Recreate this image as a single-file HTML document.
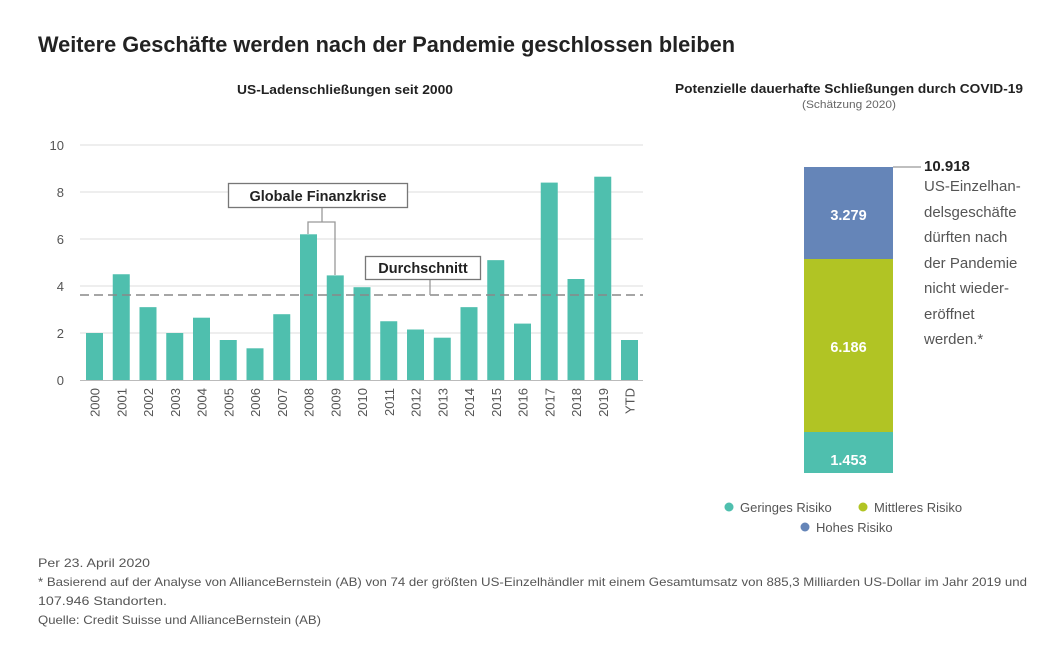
<!DOCTYPE html>
<html><head><meta charset="utf-8"><style>
html,body{margin:0;padding:0;background:#fff;}
svg{display:block;font-family:"Liberation Sans",sans-serif;}
</style></head><body>
<svg width="1057" height="658" viewBox="0 0 1057 658" xmlns="http://www.w3.org/2000/svg">
<text x="38" y="52" font-size="22" font-weight="bold" fill="#222" textLength="697" lengthAdjust="spacingAndGlyphs">Weitere Geschäfte werden nach der Pandemie geschlossen bleiben</text>
<text x="237" y="94" font-size="12.5" font-weight="bold" fill="#222" textLength="216" lengthAdjust="spacingAndGlyphs">US-Ladenschließungen seit 2000</text>
<text x="675" y="93" font-size="12.5" font-weight="bold" fill="#222" textLength="348" lengthAdjust="spacingAndGlyphs">Potenzielle dauerhafte Schließungen durch COVID-19</text>
<text x="802" y="108" font-size="11" fill="#666" textLength="94" lengthAdjust="spacingAndGlyphs">(Schätzung 2020)</text>
<g stroke="#ddd" stroke-width="1">
<line x1="80" y1="145" x2="643" y2="145"/><line x1="80" y1="192" x2="643" y2="192"/><line x1="80" y1="239" x2="643" y2="239"/><line x1="80" y1="286" x2="643" y2="286"/><line x1="80" y1="333" x2="643" y2="333"/>
</g>
<line x1="80" y1="380.5" x2="643" y2="380.5" stroke="#bbb"/>
<g font-size="13" fill="#555" text-anchor="end">
<text x="64" y="150">10</text><text x="64" y="197">8</text><text x="64" y="244">6</text><text x="64" y="291">4</text><text x="64" y="338">2</text><text x="64" y="385">0</text>
</g>
<g fill="#4fbfae">
<rect x="86" y="333" width="17" height="47"/>
<rect x="112.75" y="274.25" width="17" height="105.75"/>
<rect x="139.5" y="307.15" width="17" height="72.85"/>
<rect x="166.25" y="333" width="17" height="47"/>
<rect x="193" y="317.7" width="17" height="62.3"/>
<rect x="219.75" y="340" width="17" height="40"/>
<rect x="246.5" y="348.3" width="17" height="31.7"/>
<rect x="273.25" y="314.2" width="17" height="65.8"/>
<rect x="300" y="234.3" width="17" height="145.7"/>
<rect x="326.75" y="275.4" width="17" height="104.6"/>
<rect x="353.5" y="287.2" width="17" height="92.8"/>
<rect x="380.25" y="321.25" width="17" height="58.75"/>
<rect x="407" y="329.5" width="17" height="50.5"/>
<rect x="433.75" y="337.7" width="17" height="42.3"/>
<rect x="460.5" y="307.15" width="17" height="72.85"/>
<rect x="487.25" y="260.15" width="17" height="119.85"/>
<rect x="514" y="323.6" width="17" height="56.4"/>
<rect x="540.75" y="182.6" width="17" height="197.4"/>
<rect x="567.5" y="279" width="17" height="101"/>
<rect x="594.25" y="176.7" width="17" height="203.3"/>
<rect x="621" y="340" width="17" height="40"/>
</g>
<line x1="80" y1="295" x2="643" y2="295" stroke="#888" stroke-width="1.5" stroke-dasharray="9,5"/>
<g stroke="#999" stroke-width="1.3" fill="none">
<polyline points="308,234 308,222 335,222 335,275"/>
<line x1="322" y1="207" x2="322" y2="222"/>
<line x1="430" y1="279" x2="430" y2="295"/>
</g>
<rect x="228.5" y="183.5" width="179" height="24" fill="#fff" stroke="#777" stroke-width="1.3"/>
<text x="318" y="201" font-size="14.5" font-weight="bold" fill="#222" text-anchor="middle">Globale Finanzkrise</text>
<rect x="365.5" y="256.5" width="115" height="23" fill="#fff" stroke="#777" stroke-width="1.3"/>
<text x="423" y="273" font-size="14.5" font-weight="bold" fill="#222" text-anchor="middle">Durchschnitt</text>
<g font-size="13" fill="#555" text-anchor="end">
<text transform="translate(99.5,388) rotate(-90)">2000</text>
<text transform="translate(126.25,388) rotate(-90)">2001</text>
<text transform="translate(153,388) rotate(-90)">2002</text>
<text transform="translate(179.75,388) rotate(-90)">2003</text>
<text transform="translate(206.5,388) rotate(-90)">2004</text>
<text transform="translate(233.25,388) rotate(-90)">2005</text>
<text transform="translate(260,388) rotate(-90)">2006</text>
<text transform="translate(286.75,388) rotate(-90)">2007</text>
<text transform="translate(313.5,388) rotate(-90)">2008</text>
<text transform="translate(340.25,388) rotate(-90)">2009</text>
<text transform="translate(367,388) rotate(-90)">2010</text>
<text transform="translate(393.75,388) rotate(-90)">2011</text>
<text transform="translate(420.5,388) rotate(-90)">2012</text>
<text transform="translate(447.25,388) rotate(-90)">2013</text>
<text transform="translate(474,388) rotate(-90)">2014</text>
<text transform="translate(500.75,388) rotate(-90)">2015</text>
<text transform="translate(527.5,388) rotate(-90)">2016</text>
<text transform="translate(554.25,388) rotate(-90)">2017</text>
<text transform="translate(581,388) rotate(-90)">2018</text>
<text transform="translate(607.75,388) rotate(-90)">2019</text>
<text transform="translate(634.5,388) rotate(-90)">YTD</text>
</g>
<rect x="804" y="167" width="89" height="92" fill="#6585b8"/>
<rect x="804" y="259" width="89" height="173" fill="#b1c424"/>
<rect x="804" y="432" width="89" height="41" fill="#4fbfae"/>
<g font-size="14.5" font-weight="bold" fill="#fff" text-anchor="middle">
<text x="848.5" y="220">3.279</text><text x="848.5" y="352">6.186</text><text x="848.5" y="465">1.453</text>
</g>
<line x1="893" y1="167" x2="921" y2="167" stroke="#999" stroke-width="1.2"/>
<text x="924" y="171" font-size="15" font-weight="bold" fill="#222">10.918</text>
<g font-size="15" fill="#555">
<text x="924" y="191">US-Einzelhan-</text>
<text x="924" y="217">delsgeschäfte</text>
<text x="924" y="242">dürften nach</text>
<text x="924" y="268">der Pandemie</text>
<text x="924" y="293">nicht wieder-</text>
<text x="924" y="319">eröffnet</text>
<text x="924" y="344">werden.*</text>
</g>
<g font-size="13" fill="#555">
<circle cx="729" cy="507" r="4.5" fill="#4fbfae"/><text x="740" y="512">Geringes Risiko</text>
<circle cx="863" cy="507" r="4.5" fill="#b1c424"/><text x="874" y="512">Mittleres Risiko</text>
<circle cx="805" cy="527" r="4.5" fill="#6585b8"/><text x="816" y="532">Hohes Risiko</text>
</g>
<g font-size="12" fill="#555">
<text x="38" y="567" textLength="112" lengthAdjust="spacingAndGlyphs">Per 23. April 2020</text>
<text x="38" y="586" textLength="989" lengthAdjust="spacingAndGlyphs">* Basierend auf der Analyse von AllianceBernstein (AB) von 74 der größten US-Einzelhändler mit einem Gesamtumsatz von 885,3 Milliarden US-Dollar im Jahr 2019 und</text>
<text x="38" y="605" textLength="129" lengthAdjust="spacingAndGlyphs">107.946 Standorten.</text>
<text x="38" y="624" textLength="283" lengthAdjust="spacingAndGlyphs">Quelle: Credit Suisse und AllianceBernstein (AB)</text>
</g>
</svg>
</body></html>
